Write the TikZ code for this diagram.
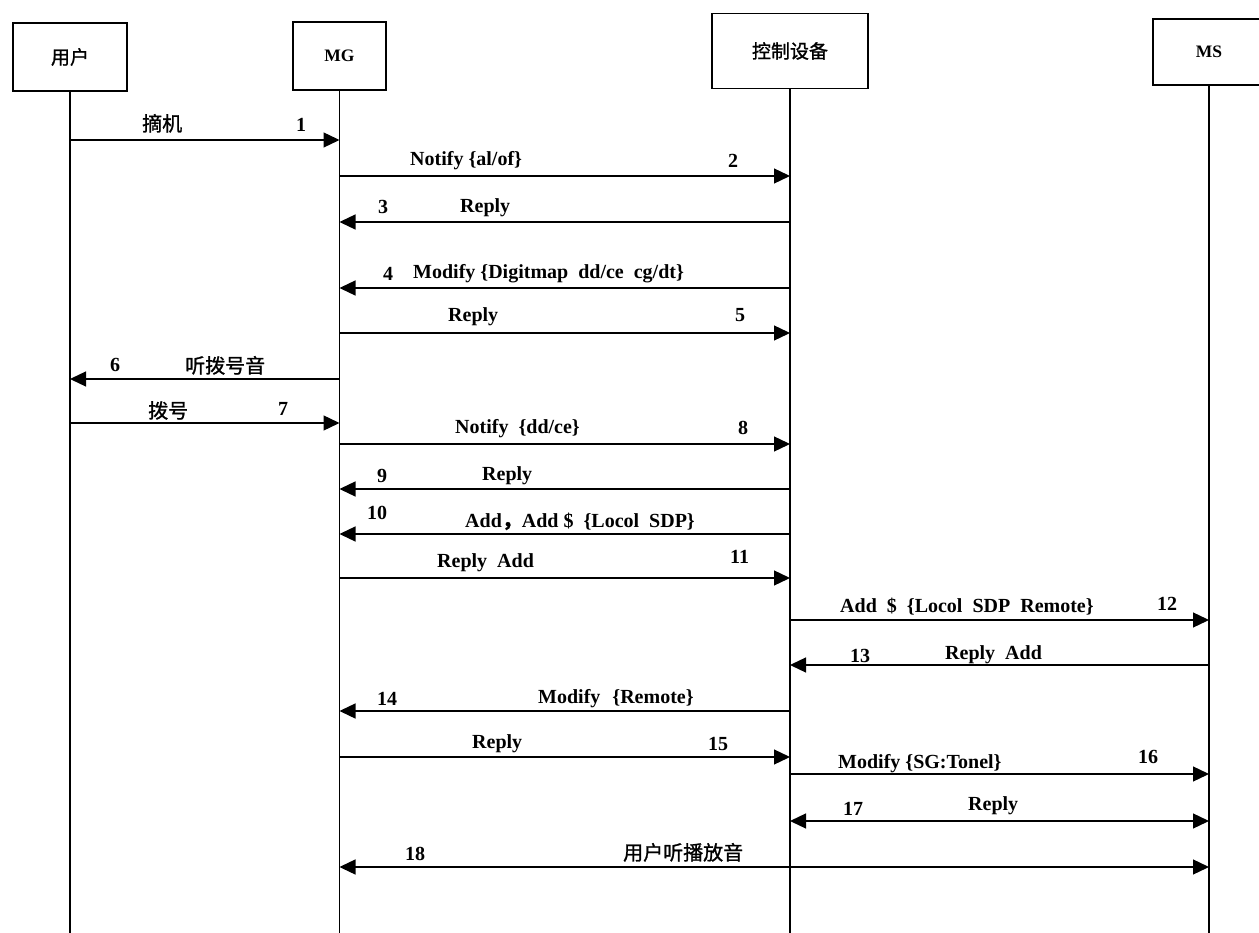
\documentclass[tikz,border=0pt]{standalone}
\usepackage{fontspec}
\setmainfont{Liberation Serif}
\newfontfamily\cjk[FakeBold=1.2]{Noto Sans CJK SC}
\usetikzlibrary{arrows.meta}
\begin{document}
\begin{tikzpicture}[x=1pt,y=-1pt,
  box/.style={draw, line width=1.4pt, inner sep=0pt},
  life/.style={line width=1.2pt},
  msg/.style={line width=1.3pt, -{Triangle[length=16pt,width=15pt]}},
  dmsg/.style={line width=1.3pt, {Triangle[length=16pt,width=15pt]}-{Triangle[length=16pt,width=15pt]}},
  lab/.style={anchor=base west, inner sep=0pt, font=\fontsize{20}{22}\selectfont\bfseries},
  clab/.style={anchor=base west, inner sep=0pt, font=\fontsize{20}{22}\selectfont\cjk},
  boxlab/.style={font=\fontsize{17.5}{20}\selectfont\bfseries},
  cboxlab/.style={font=\fontsize{19}{22}\selectfont\cjk}]
\useasboundingbox (0,0) rectangle (1259,933);
% participants
\node[box, cboxlab, minimum width=114pt, minimum height=68pt] (user) at (70,57) {用户};
\node[box, boxlab, minimum width=93pt, minimum height=68pt] (mg) at (339.5,56) {MG};
\node[box, cboxlab, minimum width=156pt, minimum height=75pt] (ctrl) at (790,51) {控制设备};
\node[box, boxlab, minimum width=112pt, minimum height=66pt] (ms) at (1209,52) {MS};
% lifelines
\coordinate (bot) at (0,933);
\draw[life] (user.south) -- (user.south |- bot);
\draw[life, line width=1.6pt] (mg.south) -- (mg.south |- bot);
\draw[life] (ctrl.south) -- (ctrl.south |- bot);
\draw[life, line width=1.6pt] (ms.south) -- (ms.south |- bot);
% rows
\coordinate (r1) at (0,140);
\coordinate (r2) at (0,176);
\coordinate (r3) at (0,222);
\coordinate (r4) at (0,288);
\coordinate (r5) at (0,333);
\coordinate (r6) at (0,379);
\coordinate (r7) at (0,423);
\coordinate (r8) at (0,444);
\coordinate (r9) at (0,489);
\coordinate (r10) at (0,534);
\coordinate (r11) at (0,578);
\coordinate (r12) at (0,620);
\coordinate (r13) at (0,665);
\coordinate (r14) at (0,711);
\coordinate (r15) at (0,757);
\coordinate (r16) at (0,774);
\coordinate (r17) at (0,821);
\coordinate (r18) at (0,867);
% messages
\draw[msg] (user |- r1) -- (mg |- r1);
\draw[msg] (mg |- r2) -- (ctrl |- r2);
\draw[msg] (ctrl |- r3) -- (mg |- r3);
\draw[msg] (ctrl |- r4) -- (mg |- r4);
\draw[msg] (mg |- r5) -- (ctrl |- r5);
\draw[msg] (mg |- r6) -- (user |- r6);
\draw[msg] (user |- r7) -- (mg |- r7);
\draw[msg] (mg |- r8) -- (ctrl |- r8);
\draw[msg] (ctrl |- r9) -- (mg |- r9);
\draw[msg] (ctrl |- r10) -- (mg |- r10);
\draw[msg] (mg |- r11) -- (ctrl |- r11);
\draw[msg] (ctrl |- r12) -- (ms |- r12);
\draw[msg] (ms |- r13) -- (ctrl |- r13);
\draw[msg] (ctrl |- r14) -- (mg |- r14);
\draw[msg] (mg |- r15) -- (ctrl |- r15);
\draw[msg] (ctrl |- r16) -- (ms |- r16);
\draw[dmsg] (ctrl |- r17) -- (ms |- r17);
\draw[dmsg] (mg |- r18) -- (ms |- r18);
% labels
\node[clab] (t1) at (142,131) {摘机};
\node[lab] (n1) at (296,132) {1};
\node[lab] (t2) at (410,166) {Notify \{al/of\}};
\node[lab] (n2) at (728,168) {2};
\node[lab] (n3) at (378,214) {3};
\node[lab] (t3) at (460,213) {Reply};
\node[lab] (n4) at (383,281) {4};
\node[lab] (t4) at (413,279) {Modify \{Digitmap \ dd/ce \ cg/dt\}};
\node[lab] (t5) at (448,322) {Reply};
\node[lab] (n5) at (735,322) {5};
\node[lab] (n6) at (110,372) {6};
\node[clab] (t6) at (185,373) {听拨号音};
\node[clab] (t7) at (148,418) {拨号};
\node[lab] (n7) at (278,415) {7};
\node[lab] (t8) at (455,433) {Notify \ \{dd/ce\}};
\node[lab] (n8) at (738,435) {8};
\node[lab] (n9) at (377,482) {9};
\node[lab] (t9) at (482,480) {Reply};
\node[lab] (n10) at (367,519) {10};
\node[lab] (t10) at (465,527) {Add{\cjk ，}Add \$ \ \{Locol \ SDP\}};
\node[lab] (t11) at (437,567) {Reply \ Add};
\node[lab] (n11) at (730,563) {11};
\node[lab] (t12) at (840,612) {Add \ \$ \ \{Locol \ SDP \ Remote\}};
\node[lab] (n12) at (1157,610) {12};
\node[lab] (n13) at (850,662) {13};
\node[lab] (t13) at (945,659) {Reply \ Add};
\node[lab] (n14) at (377,705) {14};
\node[lab] (t14) at (538,703) {Modify\hspace{12pt}\{Remote\}};
\node[lab] (t15) at (472,748) {Reply};
\node[lab] (n15) at (708,750) {15};
\node[lab] (t16) at (838,768) {Modify \{SG:Tonel\}};
\node[lab] (n16) at (1138,763) {16};
\node[lab] (n17) at (843,815) {17};
\node[lab] (t17) at (968,810) {Reply};
\node[lab] (n18) at (405,860) {18};
\node[clab] (t18) at (623,860) {用户听播放音};
\end{tikzpicture}
\end{document}
